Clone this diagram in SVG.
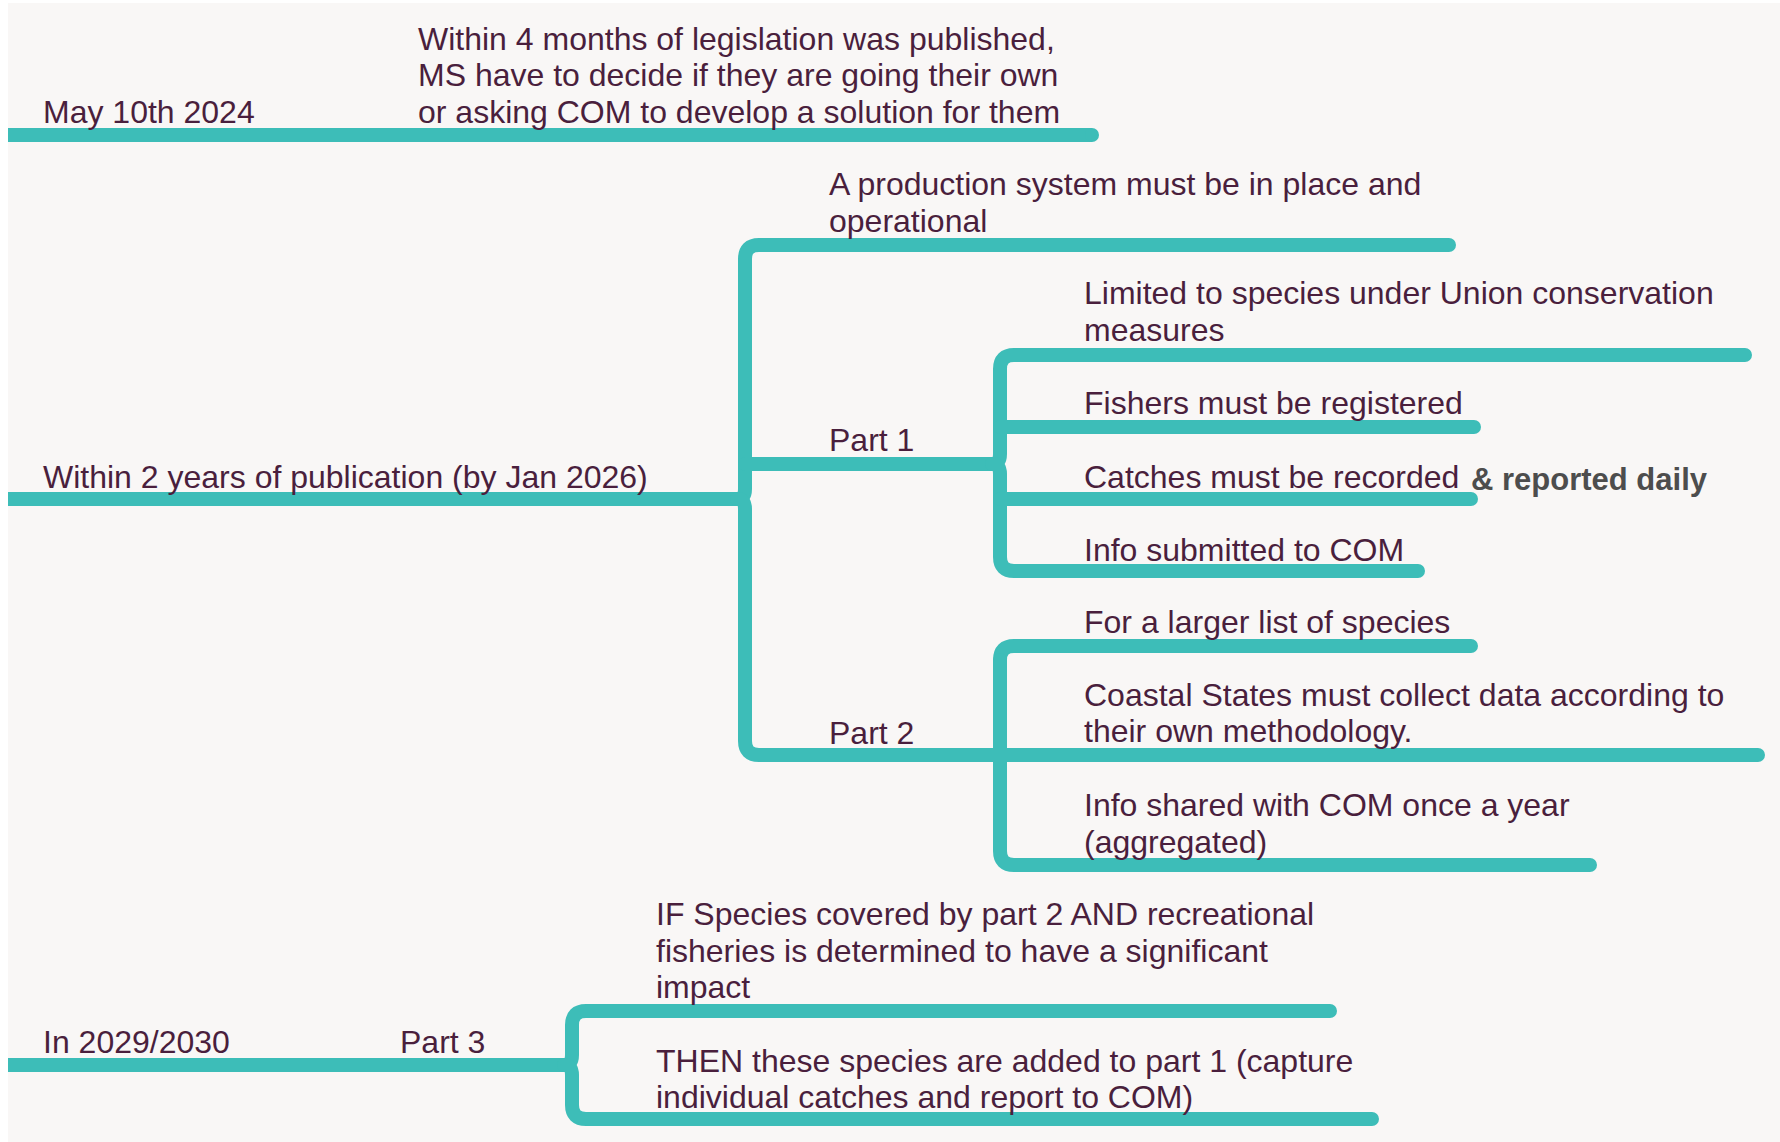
<svg xmlns="http://www.w3.org/2000/svg" width="1780" height="1142" viewBox="0 0 1780 1142">
<style>
.bg{fill:#f9f7f6}
.ln{fill:none;stroke:#3dbdb8;stroke-width:14;stroke-linecap:round;stroke-linejoin:round}
.flat{stroke-linecap:butt}
.t{font-family:"Liberation Sans",Arial,sans-serif;font-size:32px;fill:#4a1f3d}
.b{font-family:"Liberation Sans",Arial,sans-serif;font-size:31px;font-weight:bold;fill:#4d4d4d}
</style>
<rect width="1780" height="1142" fill="#ffffff"/>
<rect class="bg" x="8" y="3" width="1772" height="1139"/>
<g id="connectors">
  <path class="ln flat" d="M8 135 H1092"/>
  <path class="ln" d="M1092 135 H1092"/>
  <path class="ln flat" d="M8 499 H737"/>
  <path class="ln" d="M737 499 Q745 499 745 489 V259 Q745 245 759 245 H1449"/>
  <path class="ln" d="M737 499 Q745 499 745 509 V741 Q745 755 759 755 H1758"/>
  <path class="ln" d="M745 464 H992"/>
  <path class="ln" d="M992 464 Q1000 464 1000 454 V369 Q1000 355 1014 355 H1745"/>
  <path class="ln" d="M992 464 Q1000 464 1000 474 V557 Q1000 571 1014 571 H1418"/>
  <path class="ln" d="M1000 427 H1474"/>
  <path class="ln" d="M1000 499 H1471"/>
  <path class="ln" d="M1000 660 Q1000 646 1014 646 H1471"/>
  <path class="ln" d="M1000 660 V851 Q1000 865 1014 865 H1590"/>
  <path class="ln flat" d="M8 1065 H564"/>
  <path class="ln" d="M564 1065 Q572 1065 572 1055 V1025 Q572 1011 586 1011 H1330"/>
  <path class="ln" d="M564 1065 Q572 1065 572 1075 V1105 Q572 1119 586 1119 H1372"/>
</g>
<g id="may2024">
  <text class="t" x="43" y="123">May 10th 2024</text>
</g>
<g id="within4months">
  <text class="t" x="418" y="50">Within 4 months of legislation was published,</text>
  <text class="t" x="418" y="86">MS have to decide if they are going their own</text>
  <text class="t" x="418" y="123">or asking COM to develop a solution for them</text>
</g>
<g id="within2years">
  <text class="t" x="43" y="488">Within 2 years of publication (by Jan 2026)</text>
</g>
<g id="production">
  <text class="t" x="829" y="195">A production system must be in place and</text>
  <text class="t" x="829" y="232">operational</text>
</g>
<g id="part1">
  <text class="t" x="829" y="451">Part 1</text>
</g>
<g id="limited">
  <text class="t" x="1084" y="304">Limited to species under Union conservation</text>
  <text class="t" x="1084" y="341">measures</text>
</g>
<g id="fishers">
  <text class="t" x="1084" y="414">Fishers must be registered</text>
</g>
<g id="catches">
  <text class="t" x="1084" y="488">Catches must be recorded</text>
  <text class="b" x="1471" y="490">&amp; reported daily</text>
</g>
<g id="infosubmitted">
  <text class="t" x="1084" y="561">Info submitted to COM</text>
</g>
<g id="part2">
  <text class="t" x="829" y="744">Part 2</text>
</g>
<g id="largerlist">
  <text class="t" x="1084" y="633">For a larger list of species</text>
</g>
<g id="coastal">
  <text class="t" x="1084" y="706">Coastal States must collect data according to</text>
  <text class="t" x="1084" y="742">their own methodology.</text>
</g>
<g id="infoshared">
  <text class="t" x="1084" y="816">Info shared with COM once a year</text>
  <text class="t" x="1084" y="853">(aggregated)</text>
</g>
<g id="in2029">
  <text class="t" x="43" y="1053">In 2029/2030</text>
</g>
<g id="part3">
  <text class="t" x="400" y="1053">Part 3</text>
</g>
<g id="ifspecies">
  <text class="t" x="656" y="925">IF Species covered by part 2 AND recreational</text>
  <text class="t" x="656" y="962">fisheries is determined to have a significant</text>
  <text class="t" x="656" y="998">impact</text>
</g>
<g id="thenspecies">
  <text class="t" x="656" y="1072">THEN these species are added to part 1 (capture</text>
  <text class="t" x="656" y="1108">individual catches and report to COM)</text>
</g>
</svg>
